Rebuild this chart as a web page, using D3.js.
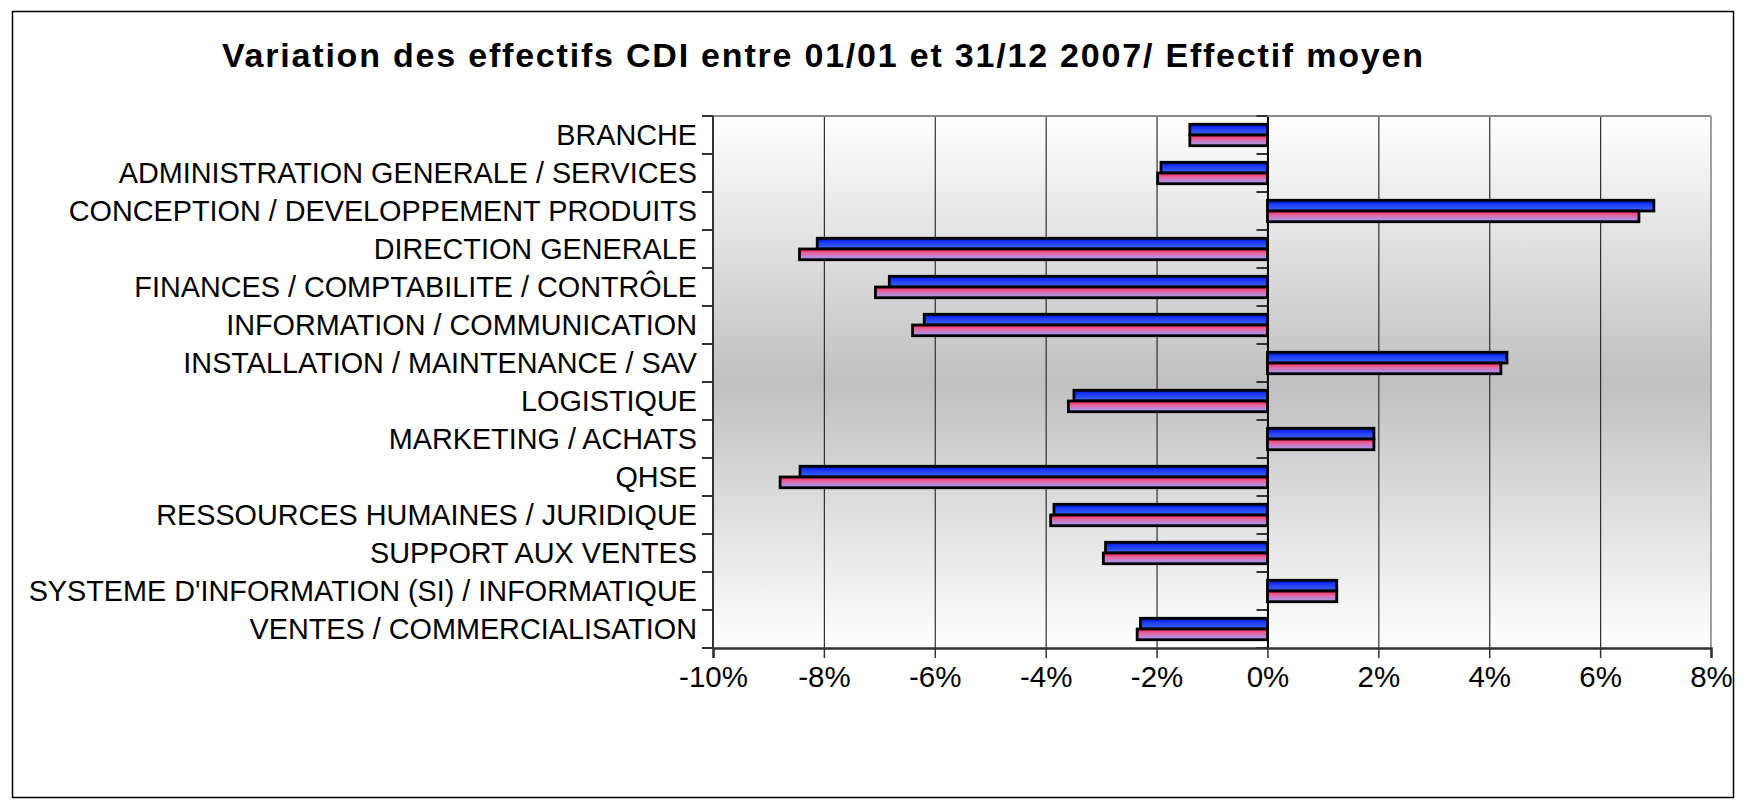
<!DOCTYPE html>
<html>
<head>
<meta charset="utf-8">
<script src="https://cdnjs.cloudflare.com/ajax/libs/d3/7.8.5/d3.min.js"></script>
<style>
  body { margin: 0; background: #fff; }
  text { font-family: "Liberation Sans", Arial, sans-serif; fill: #000; }
</style>
</head>
<body>
<div id="chartContainer"></div>
<script>
var categories = [
  "BRANCHE",
  "ADMINISTRATION GENERALE / SERVICES",
  "CONCEPTION / DEVELOPPEMENT PRODUITS",
  "DIRECTION GENERALE",
  "FINANCES / COMPTABILITE / CONTRÔLE",
  "INFORMATION / COMMUNICATION",
  "INSTALLATION / MAINTENANCE / SAV",
  "LOGISTIQUE",
  "MARKETING / ACHATS",
  "QHSE",
  "RESSOURCES HUMAINES / JURIDIQUE",
  "SUPPORT AUX VENTES",
  "SYSTEME D'INFORMATION (SI) / INFORMATIQUE",
  "VENTES / COMMERCIALISATION"
];
// variation in % (blue series, then pink series)
var serieA = [-1.40, -1.92, 6.97, -8.12, -6.82, -6.19, 4.32, -3.49, 1.92, -8.43, -3.85, -2.92, 1.25, -2.29];
var serieB = [-1.40, -1.98, 6.70, -8.44, -7.07, -6.40, 4.21, -3.59, 1.92, -8.79, -3.91, -2.96, 1.25, -2.35];
var xTicks = [-10, -8, -6, -4, -2, 0, 2, 4, 6, 8];
var title = "Variation des effectifs CDI entre 01/01 et 31/12 2007/ Effectif moyen";

var W = 1745, H = 806;
var plot = { left: 713, right: 1711, top: 116, bottom: 648 };

var svg = d3.select("#chartContainer")
  .append("svg")
  .attr("width", W)
  .attr("height", H);

var defs = svg.append("defs");

// plot background gradient
var bg = defs.append("linearGradient")
  .attr("id", "bgGrad")
  .attr("x1", "0%").attr("y1", "0%")
  .attr("x2", "0%").attr("y2", "100%");
bg.append("stop").attr("offset", "0%").attr("stop-color", "#ffffff");
bg.append("stop").attr("offset", "50%").attr("stop-color", "#c0c0c0");
bg.append("stop").attr("offset", "100%").attr("stop-color", "#ffffff");

// bar gradients
var gA = defs.append("linearGradient")
  .attr("id", "gradA")
  .attr("x1", "0%").attr("y1", "0%")
  .attr("x2", "0%").attr("y2", "100%");
gA.append("stop").attr("offset", "0%").attr("stop-color", "#0010b8");
gA.append("stop").attr("offset", "35%").attr("stop-color", "#1a36ff");
gA.append("stop").attr("offset", "70%").attr("stop-color", "#2c52ff");
gA.append("stop").attr("offset", "100%").attr("stop-color", "#4d70ff");

var gB = defs.append("linearGradient")
  .attr("id", "gradB")
  .attr("x1", "0%").attr("y1", "0%")
  .attr("x2", "0%").attr("y2", "100%");
gB.append("stop").attr("offset", "0%").attr("stop-color", "#ff1a48");
gB.append("stop").attr("offset", "35%").attr("stop-color", "#e8609a");
gB.append("stop").attr("offset", "70%").attr("stop-color", "#c086d6");
gB.append("stop").attr("offset", "100%").attr("stop-color", "#9a98f4");

// outer frame
svg.append("rect")
  .attr("x", 12.5).attr("y", 11.5)
  .attr("width", 1721).attr("height", 786)
  .attr("fill", "none")
  .attr("stroke", "#000")
  .attr("stroke-width", 1.5);

// title
svg.append("text")
  .attr("x", 222)
  .attr("y", 67)
  .attr("textLength", 1201)
  .attr("lengthAdjust", "spacing")
  .style("font-size", "34px")
  .style("font-weight", "bold")
  .text(title);

// scales
var xScale = d3.scaleLinear().domain([-10, 8]).range([plot.left, plot.right]);
var yScale = d3.scaleBand().domain(categories).range([plot.top, plot.bottom]);
var ySub = d3.scaleBand().domain(["A", "B"]).range([0, yScale.bandwidth()])
  .paddingInner(0).paddingOuter(0.77);

// background
svg.append("rect")
  .attr("x", plot.left).attr("y", plot.top)
  .attr("width", plot.right - plot.left)
  .attr("height", plot.bottom - plot.top)
  .attr("fill", "url(#bgGrad)");

// vertical gridlines
svg.append("g")
  .selectAll("line")
  .data(xTicks.filter(d => d > -10 && d < 8))
  .enter()
  .append("line")
  .attr("x1", d => xScale(d) + 0.5).attr("x2", d => xScale(d) + 0.5)
  .attr("y1", plot.top).attr("y2", plot.bottom)
  .attr("stroke", d => d === 0 ? "#000" : "#303030")
  .attr("stroke-width", d => d === 0 ? 2 : 1.2);

// plot border
svg.append("line")
  .attr("x1", plot.left).attr("x2", plot.right)
  .attr("y1", plot.top).attr("y2", plot.top)
  .attr("stroke", "#8a8a8a").attr("stroke-width", 2);
svg.append("line")
  .attr("x1", plot.right).attr("x2", plot.right)
  .attr("y1", plot.top).attr("y2", plot.bottom)
  .attr("stroke", "#a0a0a0").attr("stroke-width", 2);
svg.append("line")
  .attr("x1", plot.left).attr("x2", plot.left)
  .attr("y1", plot.top).attr("y2", plot.bottom)
  .attr("stroke", "#333").attr("stroke-width", 2);

// bars
var rows = categories.map((c, i) => ({ cat: c, A: serieA[i], B: serieB[i] }));
var barG = svg.append("g");
["A", "B"].forEach(function(key) {
  barG.selectAll(".bar" + key)
    .data(rows)
    .enter()
    .append("rect")
    .attr("class", "bar" + key)
    .attr("x", d => xScale(Math.min(0, d[key])))
    .attr("y", d => yScale(d.cat) + ySub(key))
    .attr("width", d => Math.abs(xScale(d[key]) - xScale(0)))
    .attr("height", ySub.bandwidth())
    .attr("fill", key === "A" ? "url(#gradA)" : "url(#gradB)")
    .attr("stroke", "#000")
    .attr("stroke-width", 2.8);
});

// category axis (labels on the left edge, ticks on left edge and at 0%)
var bounds = categories.map(c => yScale(c)).concat([plot.bottom]);
svg.append("g")
  .selectAll("line")
  .data(bounds)
  .enter()
  .append("line")
  .attr("x1", plot.left - 11).attr("x2", plot.left)
  .attr("y1", d => d).attr("y2", d => d)
  .attr("stroke", "#333").attr("stroke-width", 2);
svg.append("g")
  .selectAll("line")
  .data(bounds)
  .enter()
  .append("line")
  .attr("x1", xScale(0) - 11).attr("x2", xScale(0))
  .attr("y1", d => d).attr("y2", d => d)
  .attr("stroke", "#333").attr("stroke-width", 2);

svg.append("g")
  .selectAll("text")
  .data(categories)
  .enter()
  .append("text")
  .attr("x", 697)
  .attr("y", d => yScale(d) + yScale.bandwidth() / 2)
  .attr("dy", "0.36em")
  .attr("text-anchor", "end")
  .style("font-size", "28.8px")
  .text(d => d);

// value axis at the bottom
var xAxis = d3.axisBottom(xScale)
  .tickValues(xTicks)
  .tickSize(10)
  .tickPadding(8)
  .tickFormat(d => d + "%");

var xg = svg.append("g")
  .attr("class", "x axis")
  .attr("transform", "translate(0," + plot.bottom + ")")
  .call(xAxis);
xg.select(".domain").attr("stroke", "#333").attr("stroke-width", 2.5);
xg.selectAll(".tick line").attr("stroke", "#333").attr("stroke-width", 1.5);
xg.selectAll(".tick text")
  .attr("fill", "#000")
  .style("font-size", "29.5px")
  .style("font-family", "'Liberation Sans', Arial, sans-serif");
</script>
</body>
</html>
